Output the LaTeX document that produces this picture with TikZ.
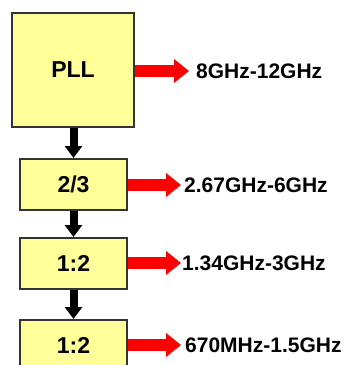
\documentclass[tikz,border=0pt]{standalone}
\usepackage{fontspec}
\setmainfont{Liberation Sans}
\usetikzlibrary{arrows.meta}
\definecolor{boxfill}{HTML}{FFFF99}
\definecolor{boxline}{HTML}{333333}
\definecolor{outred}{HTML}{FF0000}
\newcommand{\boxfont}{\fontsize{23}{26}\selectfont\bfseries}
\newcommand{\freqfont}{\fontsize{21}{24}\selectfont\bfseries}
\tikzset{
 block/.style={draw=boxline,fill=boxfill,line width=2pt,font=\boxfont,inner sep=0pt},
 divider/.style={block,minimum width=107pt,minimum height=51pt},
 chain/.style={-{Triangle[length=12pt,width=17pt]},draw=black,line width=8pt},
 output/.style={-{Triangle[length=15pt,width=23pt]},draw=outred,line width=12pt},
 freq/.style={font=\freqfont,anchor=west,inner sep=0pt},
}

\begin{document}
\begin{tikzpicture}[x=1pt,y=-1pt]

\useasboundingbox (0,0) rectangle (345,365);
\node[block,minimum width=122pt,minimum height=114pt] (pll) at (73,70) {PLL};
\node[divider] (divA) at (73.5,184.5) {2/3};
\node[divider] (divB) at (73.5,263.5) {1:2};
\node[divider] (divC) at (73.5,345.5) {1:2};
\draw[chain] (pll.south -| divA.north) -- (divA.north);
\draw[chain] (divA) -- (divB);
\draw[chain] (divB) -- (divC);
\node[freq] (fPll) at (196,71) {8GHz-12GHz};
\node[freq] (fA) at (184,185) {2.67GHz-6GHz};
\node[freq] (fB) at (182,263) {1.34GHz-3GHz};
\node[freq] (fC) at (185,345) {670MHz-1.5GHz};
\draw[output] (pll.east |- fPll) -- +(54,0);
\draw[output] (divA.east |- fA) -- +(53,0);
\draw[output] (divB.east |- fB) -- +(53,0);
\draw[output] (divC.east |- fC) -- +(53,0);

\end{tikzpicture}
\end{document}
